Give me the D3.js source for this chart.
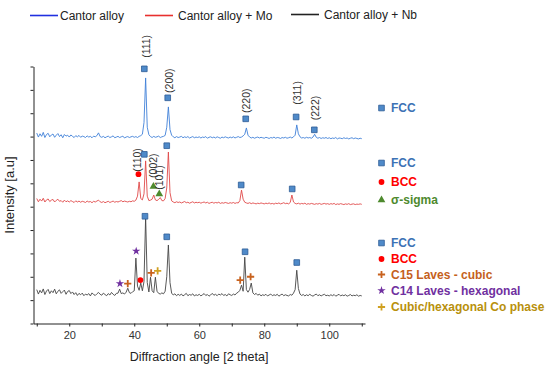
<!DOCTYPE html>
<html>
<head>
<meta charset="utf-8">
<script src="https://cdn.jsdelivr.net/npm/d3@7"></script>
<style>
  body { margin: 0; background: #fff; }
  text { font-family: "Liberation Sans", Arial, sans-serif; }
</style>
</head>
<body>
<svg id="chart" width="550" height="368"></svg>
<script>
// XRD patterns, sampled every 0.5 deg from 10 to 110 (2 theta), intensity in axis units
const angleStart = 10, angleStep = 0.5;

const cantor = [
  81.5, 79.8, 81.2, 80.1, 81.8, 79.6, 80.9, 81.4, 79.9, 80.7, 81.1, 79.7, 80.6, 81.3, 80.0, 80.8, 79.5, 80.9, 80.2, 80.6,
  79.8, 80.7, 80.1, 79.6, 80.4, 79.9, 80.5, 79.7, 80.2, 80.0, 79.6, 80.3, 79.8, 80.1, 79.5, 80.2, 79.9, 80.4, 81.6, 80.0,
  79.7, 80.1, 79.5, 79.9, 80.2, 79.6, 79.9, 80.3, 79.5, 79.8, 80.1, 79.6, 79.9, 80.2, 79.4, 79.8, 80.0, 79.6, 79.9, 80.1,
  79.7, 80.0, 79.6, 80.1, 80.4, 81.0, 86.0, 105.1, 84.0, 80.8, 80.0, 79.6, 80.1, 79.7, 79.9, 80.2, 79.6, 79.9, 80.1, 80.5,
  84.0, 92.7, 83.0, 80.6, 79.9, 79.5, 80.0, 79.6, 79.8, 80.1, 79.5, 79.9, 79.6, 80.0, 79.4, 79.7, 80.0, 79.5, 79.8, 79.6,
  79.9, 79.4, 79.8, 79.6, 80.0, 79.3, 79.7, 79.9, 79.5, 79.8, 79.4, 79.9, 79.6, 79.3, 79.8, 79.5, 79.9, 79.6, 79.4, 79.8,
  79.5, 79.9, 79.4, 79.7, 80.0, 79.6, 79.8, 80.3, 81.0, 83.7, 80.6, 79.8, 79.4, 79.7, 79.3, 79.6, 79.8, 79.4, 79.7, 79.5,
  79.3, 79.7, 79.5, 79.2, 79.6, 79.4, 79.8, 79.3, 79.6, 79.5, 79.2, 79.6, 79.4, 79.7, 79.3, 79.5, 79.8, 79.4, 79.9, 80.6,
  85.0, 81.2, 79.9, 79.4, 79.6, 79.3, 79.7, 79.4, 79.6, 79.3, 79.8, 81.0, 79.7, 79.3, 79.6, 79.2, 79.5, 79.3, 79.6, 79.2,
  79.5, 79.1, 79.4, 79.2, 79.6, 79.0, 79.4, 79.3, 79.1, 79.5, 79.2, 79.4, 79.0, 79.3, 79.5, 79.1, 79.4, 79.2, 79.0, 79.3,
  79.1
];

const cantorMo = [
  53.5, 52.1, 53.2, 52.4, 53.6, 52.0, 52.9, 53.3, 52.2, 52.8, 53.1, 52.0, 52.7, 53.2, 52.3, 52.6, 51.9, 52.8, 52.1, 52.5,
  52.0, 52.6, 52.2, 51.8, 52.5, 52.0, 52.4, 51.9, 52.3, 52.1, 51.8, 52.4, 52.0, 52.2, 51.7, 52.3, 52.0, 52.4, 52.8, 52.1,
  51.8, 52.2, 51.7, 52.0, 52.3, 51.8, 52.1, 52.4, 51.9, 52.2, 52.0, 52.3, 52.6, 52.1, 52.4, 52.2, 52.0, 52.3, 52.1, 52.5,
  52.3, 52.8, 54.5, 60.6, 53.5, 52.9, 55.5, 69.6, 54.5, 52.6, 52.8, 53.2, 55.0, 52.9, 52.6, 53.1, 53.9, 52.6, 52.5, 53.5,
  58.0, 73.4, 56.0, 52.5, 52.0, 51.7, 52.1, 51.8, 52.0, 51.6, 51.9, 52.2, 51.7, 51.9, 51.5, 51.8, 52.1, 51.6, 51.9, 51.7,
  51.9, 51.5, 51.8, 52.0, 51.6, 51.9, 51.4, 51.7, 51.9, 51.5, 51.8, 51.6, 51.9, 51.4, 51.7, 51.5, 51.8, 51.6, 51.4, 51.7,
  51.5, 51.8, 51.4, 51.7, 51.6, 52.6, 57.1, 53.2, 51.9, 51.6, 51.4, 51.7, 51.3, 51.6, 51.4, 51.2, 51.5, 51.3, 51.6, 51.4,
  51.2, 51.5, 51.3, 51.6, 51.2, 51.4, 51.1, 51.5, 51.3, 51.6, 51.2, 51.4, 51.7, 51.3, 51.5, 51.2, 51.8, 55.0, 52.0, 51.4,
  51.2, 51.5, 51.1, 51.4, 51.2, 51.5, 51.0, 51.3, 51.1, 51.4, 51.2, 51.0, 51.3, 51.1, 51.4, 51.0, 51.2, 51.4, 51.1, 51.3,
  51.0, 51.3, 51.1, 51.4, 50.9, 51.2, 51.0, 51.3, 51.1, 50.9, 51.2, 51.0, 51.3, 50.9, 51.1, 51.2, 50.9, 51.1, 51.0, 51.2,
  51.0
];

const cantorNb = [
  14.5, 12.6, 14.2, 13.1, 14.8, 12.4, 13.9, 14.6, 12.8, 14.0, 13.2, 14.7, 12.7, 13.8, 14.4, 12.9, 13.6, 14.3, 12.5, 13.7,
  14.1, 12.8, 13.5, 12.4, 13.2, 12.0, 12.9, 12.3, 13.0, 11.9, 12.6, 12.2, 12.8, 11.8, 13.1, 12.4, 12.0, 12.7, 13.3, 12.5,
  12.1, 13.0, 12.4, 11.9, 12.8, 12.2, 13.3, 12.5, 12.0, 12.9, 13.0, 14.7, 12.8, 13.1, 12.6, 13.4, 15.1, 13.2, 12.9, 13.6,
  14.0, 28.0, 16.0, 14.2, 17.3, 14.0, 18.0, 45.6, 17.5, 13.5, 19.8, 14.0, 13.2, 19.8, 13.8, 12.9, 12.6, 13.1, 12.7, 13.8,
  20.0, 33.6, 17.5, 13.0, 12.2, 12.7, 11.9, 12.5, 12.0, 12.6, 11.8, 12.3, 12.9, 11.9, 12.4, 12.1, 12.7, 11.8, 12.3, 12.0,
  12.5, 11.8, 12.3, 12.8, 12.0, 12.4, 11.7, 12.2, 12.9, 12.1, 12.5, 11.9, 12.6, 12.2, 12.8, 12.0, 12.4, 11.8, 12.7, 12.3,
  12.0, 12.6, 12.2, 13.0, 13.4, 14.2, 16.4, 13.8, 28.4, 14.5, 13.4, 14.6, 17.3, 13.1, 12.4, 12.9, 12.1, 12.6, 11.8, 12.3,
  12.0, 12.5, 11.8, 12.2, 12.6, 11.9, 12.3, 12.0, 12.5, 11.7, 12.2, 12.6, 11.9, 12.3, 12.0, 11.8, 12.4, 12.1, 13.0, 14.5,
  22.8, 15.0, 12.6, 12.0, 12.4, 11.8, 12.3, 11.9, 12.5, 12.0, 11.7, 12.2, 12.6, 11.9, 12.3, 11.8, 12.2, 12.5, 11.9, 12.1,
  11.8, 12.3, 11.9, 12.4, 11.7, 12.1, 12.5, 11.8, 12.2, 11.9, 12.3, 11.7, 12.0, 12.4, 11.8, 12.1, 11.9, 12.3, 11.7, 12.0,
  11.8
];

const seriesNames = ["Cantor alloy", "Cantor alloy + Mo", "Cantor alloy + Nb"];

// phase markers [2theta, intensity]
const fccMarks = [[43.1, 109.0], [50.3, 96.6], [74.3, 87.6], [89.8, 88.4], [95.4, 82.9],
                  [43.1, 72.4], [50.0, 76.1], [72.9, 59.3], [88.6, 57.6],
                  [43.3, 45.9], [50.0, 37.1], [74.1, 30.7], [90.0, 26.1]];
const bccMarks = [[41.3, 63.9], [41.9, 18.6]];
const sigmaMarks = [[45.9, 58.6], [47.7, 55.4]];
const c15Marks = [[38.0, 17.1], [45.2, 21.7], [72.6, 18.6], [75.8, 20.0]];
const c14Marks = [[35.6, 17.1], [40.6, 31.0]];
const coMarks = [[47.2, 22.5]];

// Miller index labels [text, 2theta, intensity at lower end of the label]
const hklLabels = [["(111)", 43.6, 113.7], ["(200)", 50.9, 98.7], ["(220)", 74.4, 90.1],
                   ["(311)", 90.1, 93.6], ["(222)", 95.6, 87.0],
                   ["(110)", 40.9, 64.9], ["(002)", 45.8, 62.3], ["(101)", 47.8, 57.2]];

const xTicks = [10, 20, 30, 40, 50, 60, 70, 80, 90, 100, 110];
const yTicks = [0, 10, 20, 30, 40, 50, 60, 70, 80, 90, 100, 110];

const svg = d3.select("#chart");

const x = d3.scaleLinear().domain([9, 111]).range([33.5, 365]);
const y = d3.scaleLinear().domain([0, 110]).range([323.5, 66.5]);

const traceColors = ["#3f80d8", "#e04848", "#454545"];
const legendColors = ["#2030e0", "#e8302e", "#222222"];

// axes
const xAxis = svg.append("g")
    .attr("transform", `translate(0,${y(0)})`)
    .call(d3.axisBottom(x).tickValues(xTicks).tickSize(3).tickSizeOuter(0).tickPadding(5)
        .tickFormat(d => d % 20 === 0 ? d : ""));
xAxis.selectAll("text").style("font-size", "11px").attr("fill", "#333");

const yAxis = svg.append("g")
    .attr("transform", `translate(${x(9)},0)`)
    .call(d3.axisLeft(y).tickValues(yTicks).tickSize(3).tickSizeOuter(0).tickFormat(""));

svg.selectAll(".domain, .tick line").attr("stroke", "#222").attr("stroke-width", 1);

svg.append("text")
    .attr("x", 199).attr("y", 361)
    .attr("text-anchor", "middle")
    .style("font-size", "12.5px").attr("fill", "#222")
    .text("Diffraction angle [2 theta]");

svg.append("text")
    .attr("transform", "translate(14,195) rotate(-90)")
    .attr("text-anchor", "middle")
    .style("font-size", "13px").attr("fill", "#222")
    .text("Intensity [a.u]");

// traces
const line = d3.line()
    .x((d, i) => x(angleStart + i * angleStep))
    .y(d => y(d));

[cantor, cantorMo, cantorNb].forEach((s, k) => {
    svg.append("path")
        .datum(s)
        .attr("fill", "none")
        .attr("stroke", traceColors[k])
        .attr("stroke-width", 0.9)
        .attr("d", line);
});

// markers
const markerStyles = {
    fcc: { sym: d3.symbolSquare, size: 32, fill: "#4f8ac9", stroke: "#2d5c95" },
    bcc: { sym: d3.symbolCircle, size: 26, fill: "#ff0000", stroke: "none" },
    sigma: { sym: d3.symbolTriangle, size: 26, fill: "#4e8a2e", stroke: "none" },
    c14: { sym: d3.symbolStar, size: 22, fill: "#7030a0", stroke: "none" },
    c15: { plus: true, color: "#c8621e" },
    co: { plus: true, color: "#d0a020" }
};

function drawMark(g, type, cx, cy) {
    const st = markerStyles[type];
    if (st.plus) {
        g.append("path")
            .attr("d", `M${cx - 3.6},${cy}H${cx + 3.6}M${cx},${cy - 3.6}V${cy + 3.6}`)
            .attr("stroke", st.color).attr("stroke-width", 1.8).attr("fill", "none");
    } else {
        g.append("path")
            .attr("transform", `translate(${cx},${cy})`)
            .attr("d", d3.symbol(st.sym, st.size)())
            .attr("fill", st.fill)
            .attr("stroke", st.stroke).attr("stroke-width", 0.8);
    }
}

const marks = svg.append("g");
[["fcc", fccMarks], ["bcc", bccMarks], ["sigma", sigmaMarks],
 ["c15", c15Marks], ["c14", c14Marks], ["co", coMarks]].forEach(([type, list]) => {
    list.forEach(d => drawMark(marks, type, x(d[0]), y(d[1])));
});

svg.append("g").selectAll("text")
    .data(hklLabels)
    .join("text")
    .attr("transform", d => `translate(${x(d[1])},${y(d[2])}) rotate(-90)`)
    .attr("dy", "0.35em")
    .style("font-size", "10.5px")
    .attr("fill", "#333")
    .text(d => d[0]);

// top legend
const topLegend = [[30, 60], [145, 178], [291, 324]];
seriesNames.forEach((name, k) => {
    const [lx, tx] = topLegend[k];
    const ly = k === 2 ? 14.5 : 15.5;
    svg.append("line")
        .attr("x1", lx).attr("x2", lx + 28).attr("y1", ly).attr("y2", ly)
        .attr("stroke", legendColors[k]).attr("stroke-width", 1.6);
    svg.append("text")
        .attr("x", tx).attr("y", ly).attr("dy", "0.35em")
        .style("font-size", "12px").attr("fill", "#222")
        .text(name);
});

// phase legends on the right
const phaseLegend = [
    [["fcc", "FCC", "#3d72b5", 108]],
    [["fcc", "FCC", "#3d72b5", 163], ["bcc", "BCC", "#ff0000", 182], ["sigma", "\u03c3-sigma", "#4e8a2e", 200]],
    [["fcc", "FCC", "#3d72b5", 243], ["bcc", "BCC", "#ff0000", 259], ["c15", "C15 Laves - cubic", "#c5611c", 274.5],
     ["c14", "C14 Laves - hexagonal", "#7030a0", 290.5], ["co", "Cubic/hexagonal Co phase", "#b8900c", 307]]
];
const leg = svg.append("g");
phaseLegend.forEach(block => {
    block.forEach(([type, label, color, ly]) => {
        drawMark(leg, type, 381.5, ly);
        leg.append("text")
            .attr("x", 391).attr("y", ly).attr("dy", "0.36em")
            .style("font-size", "12px").style("font-weight", "bold")
            .attr("fill", color)
            .text(label);
    });
});
</script>
</body>
</html>
